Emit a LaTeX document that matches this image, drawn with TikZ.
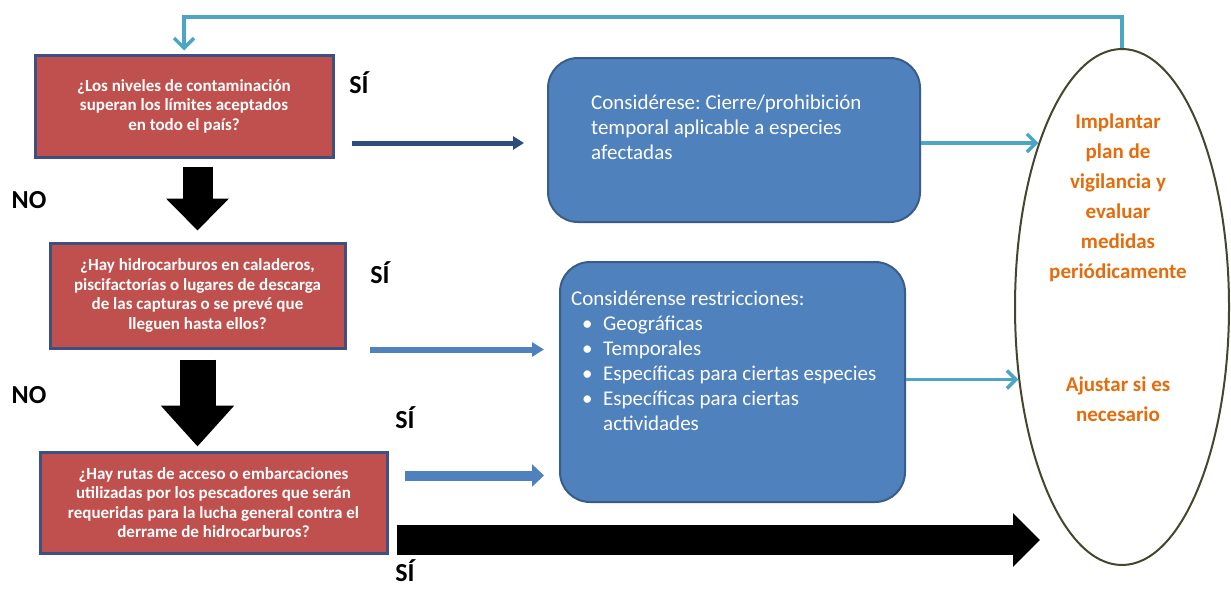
\documentclass[tikz,border=0pt]{standalone}
\usepackage{fontspec}
\setmainfont{Carlito}
\frenchspacing
\usetikzlibrary{positioning,shapes.geometric,arrows.meta,calc}
\definecolor{questionred}{RGB}{192,80,77}
\definecolor{questionedge}{RGB}{62,80,130}
\definecolor{actionblue}{RGB}{79,129,189}
\definecolor{actionedge}{RGB}{56,93,138}
\definecolor{darkarrow}{RGB}{44,77,125}
\definecolor{tealline}{RGB}{75,165,195}
\definecolor{oliveedge}{RGB}{70,70,45}
\definecolor{planorange}{RGB}{228,108,10}

\begin{document}
\begin{tikzpicture}[x=1pt, y=-1pt]
    \tikzstyle{question} = [rectangle, draw=questionedge, line width=3pt, fill=questionred, text=white, font=\bfseries\fontsize{17}{19.5}\selectfont, align=center, inner sep=0pt]
    \tikzstyle{action} = [rectangle, rounded corners=30pt, draw=actionedge, line width=2pt, fill=actionblue, inner sep=0pt]
    \tikzstyle{actiontext} = [text=white, font=\fontsize{21}{25}\selectfont, align=left, anchor=north west, inner sep=0pt]
    \tikzstyle{planshape} = [ellipse, draw=oliveedge, line width=2pt, fill=white, minimum width=214pt, minimum height=516pt, inner sep=0pt]
    \tikzstyle{plantext} = [text=planorange, font=\bfseries\fontsize{21}{30}\selectfont, align=center]
    \tikzstyle{answer} = [font=\bfseries\fontsize{26}{30}\selectfont, inner sep=0pt]
    \tikzstyle{yesarrow} = [actionblue, -{Triangle[length=12pt, width=14pt]}]
    \tikzstyle{planarrow} = [tealline, line width=3.5pt, -{Straight Barb[length=9pt, width=18pt]}]
    \tikzstyle{blockarrow} = [black]

    \useasboundingbox (0,0) rectangle (1231,589);
    \fill[white] (0,0) rectangle (1231,589);

    % Questions
    \node [question, minimum width=298pt, minimum height=102pt] (q1) at (184,106) {¿Los niveles de contaminación\\superan los límites aceptados\\en todo el país?};
    \node [question, minimum width=295pt, minimum height=105pt] (q2) at (197.5,295.5) {¿Hay hidrocarburos en caladeros,\\piscifactorías o lugares de descarga\\de las capturas o se prevé que\\lleguen hasta ellos?};
    \node [question, minimum width=347pt, minimum height=101pt] (q3) at (213.5,502.5) {¿Hay rutas de acceso o embarcaciones\\utilizadas por los pescadores que serán\\requeridas para la lucha general contra el\\derrame de hidrocarburos?};

    % Measures
    \node [action, minimum width=372pt, minimum height=164pt] (c1) at (734,140) {};
    \node [actiontext] (c1text) at ([xshift=44pt, yshift=-38pt]c1.north west) {Considérese: Cierre/prohibición\\temporal aplicable a especies\\afectadas};
    \node [action, minimum width=345pt, minimum height=240pt] (c2) at (732.5,382) {};
    \node [actiontext] (c2text) at ([xshift=12pt, yshift=-30pt]c2.north west) {Considérense restricciones:\\
        \hspace*{11pt}\makebox[21pt][l]{\textbullet}Geográficas\\
        \hspace*{11pt}\makebox[21pt][l]{\textbullet}Temporales\\
        \hspace*{11pt}\makebox[21pt][l]{\textbullet}Específicas para ciertas especies\\
        \hspace*{11pt}\makebox[21pt][l]{\textbullet}Específicas para ciertas\\
        \hspace*{32pt}actividades};

    % Monitoring
    \node [planshape] (plan) at (1122,307) {};
    \node [plantext] (monitor) at ([xshift=-4pt, yshift=109pt]plan.center) {Implantar\\plan de\\vigilancia y\\evaluar\\medidas\\periódicamente};
    \node [plantext] (adjust) at ([xshift=-4pt, yshift=-92pt]plan.center) {Ajustar si es\\necesario};

    % Answers
    \node [answer] (yes1) at (359,83) {SÍ};
    \node [answer] (no1) at (29,200) {NO};
    \node [answer] (yes2) at (380,273) {SÍ};
    \node [answer] (no2) at (29,395) {NO};
    \node [answer] (yes3) at (405,418) {SÍ};
    \node [answer] (yes4) at (405,571) {SÍ};

    \coordinate (looptop) at (0,17);
    \coordinate (blacktip) at (1040,540);

    % Arrows
    \draw [blockarrow, line width=30pt, -{Triangle[length=32pt, width=61pt]}, shorten <=8pt, shorten >=11pt] (q1.south -| q2.north) -- (q2.north);
    \draw [blockarrow, line width=36pt, -{Triangle[length=41pt, width=71pt]}, shorten <=10pt, shorten >=4pt] (q2.south) -- (q2.south |- q3.north);
    \draw [blockarrow, line width=30pt, -{Triangle[length=27pt, width=52pt]}] ([xshift=8pt]q3.east |- blacktip) -- (blacktip);
    \draw [yesarrow, darkarrow, line width=5pt, -{Triangle[length=11pt, width=13pt]}, shorten <=17pt, shorten >=23pt] ([yshift=-37pt]q1.east) -- ([yshift=-37pt]q1.east -| c1.west);
    \draw [yesarrow, line width=6pt, shorten <=23pt, shorten >=15pt] ([yshift=-54pt]q2.east) -- ([yshift=-54pt]q2.east -| c2.west);
    \draw [yesarrow, line width=10pt, -{Triangle[length=12pt, width=22pt]}, shorten <=16pt, shorten >=15pt] ([yshift=27pt]q3.east) -- ([yshift=27pt]q3.east -| c2.west);
    \draw [planarrow] (c1.east |- plan.117) -- (plan.117);
    \draw [planarrow] (c2.east |- plan.215) -- (plan.215);
    \draw [planarrow, -{Straight Barb[length=10pt, width=20pt]}, shorten >=3pt] (plan.north) -- (plan.north |- looptop) -| (q1.north);
\end{tikzpicture}
\end{document}
